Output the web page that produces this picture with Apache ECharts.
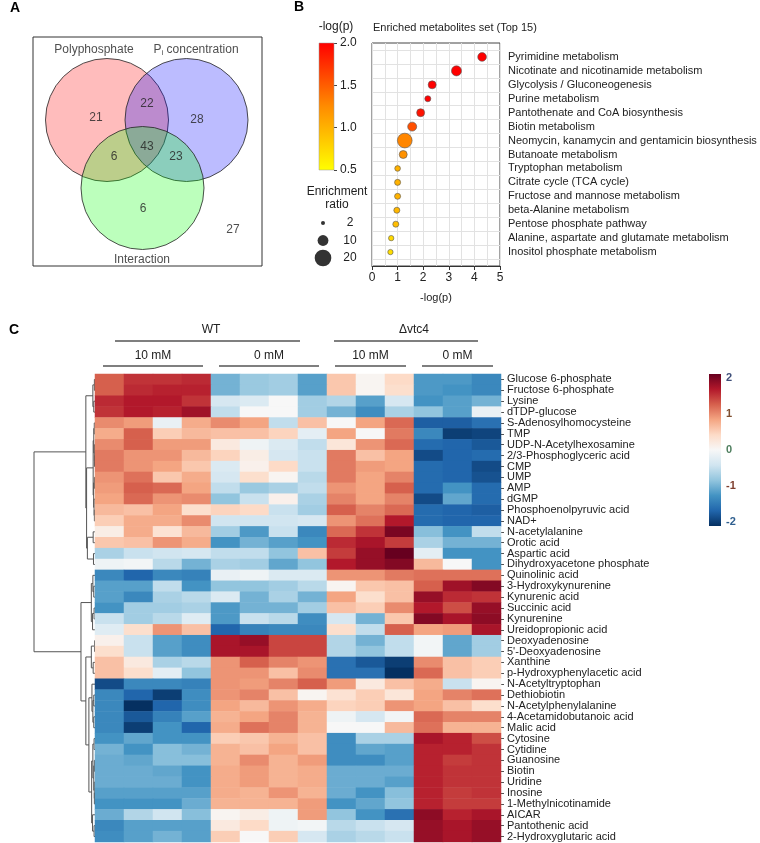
<!DOCTYPE html>
<html><head><meta charset="utf-8">
<script src="https://cdn.jsdelivr.net/npm/echarts@6/dist/echarts.min.js"></script>
<style>html,body{margin:0;padding:0;background:#fff}#c{width:760px;height:843px}</style>
</head><body><div id="c"></div><script>
const FONT = '"Liberation Sans", Arial, sans-serif';
const TXT = '#222';

// ---------- Panel A data ----------
const vennSetNames = ['Polyphosphate', 'Pi concentration', 'Interaction'];
const vennRegions = ['Poly only', 'Pi only', 'Interaction only', 'Poly+Pi', 'Poly+Int', 'Pi+Int', 'All three', 'None'];
const vennCounts = [21, 28, 6, 22, 6, 23, 43, 27];

// ---------- Panel B data ----------
const pathways = ['Pyrimidine metabolism', 'Nicotinate and nicotinamide metabolism', 'Glycolysis / Gluconeogenesis',
  'Purine metabolism', 'Pantothenate and CoA biosynthesis', 'Biotin metabolism',
  'Neomycin, kanamycin and gentamicin biosynthesis', 'Butanoate metabolism', 'Tryptophan metabolism',
  'Citrate cycle (TCA cycle)', 'Fructose and mannose metabolism', 'beta-Alanine metabolism',
  'Pentose phosphate pathway', 'Alanine, aspartate and glutamate metabolism', 'Inositol phosphate metabolism'];
const pathwayNegLogP = [4.3, 3.3, 2.35, 2.18, 1.9, 1.57, 1.28, 1.22, 1.0, 1.0, 1.0, 0.97, 0.93, 0.75, 0.72];
const pathwayRatio = [7.0, 8.8, 6.1, 3.9, 6.1, 7.4, 16.4, 6.1, 3.5, 3.9, 3.9, 3.9, 3.9, 3.2, 3.2];
const sizeLegendRatios = [2, 10, 20];
const xTicksB = [0, 1, 2, 3, 4, 5];
const colorTicksB = [0.5, 1.0, 1.5, 2.0];

// ---------- Panel C data ----------
const metabolites = ['Glucose 6-phosphate', 'Fructose 6-phosphate', 'Lysine', 'dTDP-glucose', 'S-Adenosylhomocysteine', 'TMP',
  'UDP-N-Acetylhexosamine', '2/3-Phosphoglyceric acid', 'CMP', 'UMP', 'AMP', 'dGMP', 'Phosphoenolpyruvic acid', 'NAD+',
  'N-acetylalanine', 'Orotic acid', 'Aspartic acid', 'Dihydroxyacetone phosphate', 'Quinolinic acid', '3-Hydroxykynurenine',
  'Kynurenic acid', 'Succinic acid', 'Kynurenine', 'Ureidopropionic acid', 'Deoxyadenosine', "5'-Deoxyadenosine", 'Xanthine',
  'p-Hydroxyphenylacetic acid', 'N-Acetyltryptophan', 'Dethiobiotin', 'N-Acetylphenylalanine', '4-Acetamidobutanoic acid',
  'Malic acid', 'Cytosine', 'Cytidine', 'Guanosine', 'Biotin', 'Uridine', 'Inosine', '1-Methylnicotinamide', 'AICAR',
  'Pantothenic acid', '2-Hydroxyglutaric acid'];
const samples = ['WT10_1','WT10_2','WT10_3','WT10_4','WT0_1','WT0_2','WT0_3','WT0_4','V10_1','V10_2','V10_3','V0_1','V0_2','V0_3'];
const genotypeLabels = ['WT', 'Δvtc4'];
const genotypeSpans = [[0, 7], [8, 13]];
const concLabels = ['10 mM', '0 mM', '10 mM', '0 mM'];
const concSpans = [[0, 3], [4, 7], [8, 10], [11, 13]];
const colorTicksC = [-2, -1, 0, 1, 2];
const zScores = [
  [1.2,1.45,1.45,1.5,-0.95,-0.75,-0.7,-1.1,0.55,0.05,0.4,-1.15,-1.15,-1.3],
  [1.2,1.5,1.55,1.55,-0.95,-0.75,-0.7,-1.1,0.55,0.05,0.35,-1.15,-1.2,-1.3],
  [1.5,1.6,1.6,1.45,-0.35,-0.3,0.0,-0.7,-0.6,-1.1,-0.35,-1.2,-1.1,-0.95],
  [1.45,1.6,1.55,1.7,-0.5,0.0,0.0,-0.7,-0.95,-1.25,-0.65,-0.8,-1.1,-0.15],
  [0.95,0.85,-0.15,0.75,0.95,0.8,-0.5,0.6,0.0,0.8,1.15,-1.65,-1.65,-1.5],
  [0.75,1.2,0.5,0.65,0.6,0.6,0.45,-0.2,0.8,0.0,1.05,-1.3,-1.9,-1.85],
  [0.95,1.2,0.85,0.85,0.2,-0.1,-0.3,-0.5,0.25,0.9,1.15,-1.55,-1.6,-1.7],
  [1.05,0.9,0.9,0.65,0.45,0.15,-0.35,-0.45,1.05,0.6,0.8,-1.8,-1.6,-1.55],
  [1.05,0.9,0.8,0.55,-0.3,0.1,0.4,-0.45,1.05,0.85,0.8,-1.55,-1.6,-1.8],
  [0.9,1.1,0.55,0.75,-0.35,0.35,0.05,-0.55,1.05,0.8,1.0,-1.55,-1.6,-1.75],
  [0.85,1.2,1.15,0.8,-0.5,-0.75,-0.65,-0.5,0.9,0.8,1.2,-1.55,-1.2,-1.55],
  [0.8,1.15,0.9,0.95,-0.8,-0.45,0.1,-0.65,1.0,0.8,1.0,-1.8,-1.05,-1.55],
  [0.65,0.6,0.8,0.35,0.45,0.4,-0.45,-0.7,1.2,1.0,1.15,-1.55,-1.6,-1.65],
  [0.5,0.75,0.75,0.95,-0.4,-0.4,-0.4,-0.35,0.9,1.1,1.6,-1.55,-1.6,-1.6],
  [0.15,0.75,0.3,0.65,-0.7,-1.15,-0.45,-1.3,1.15,1.45,1.9,-0.85,-1.2,-0.5],
  [0.55,0.6,0.9,0.75,-1.2,-0.95,-1.1,-1.2,1.5,1.65,1.4,-0.65,-0.95,-0.95],
  [-0.65,-0.45,-0.4,-0.35,-0.5,-0.5,-0.8,0.6,1.4,1.75,2.0,-0.2,-1.2,-1.2],
  [-0.1,-0.05,-0.55,-0.95,-0.65,-0.7,-1.05,-0.8,1.6,1.75,1.85,0.65,0.0,-1.2],
  [-1.3,-1.6,-1.3,-1.35,-0.15,-0.1,-0.3,-0.3,0.9,0.9,1.05,1.1,1.1,1.1],
  [-1.1,-1.1,-0.5,-1.2,-0.8,-0.8,-0.7,-0.55,0.05,0.55,0.6,1.2,1.7,1.85],
  [-1.1,-1.3,-0.65,-0.55,-0.3,-0.95,-0.65,-0.95,0.8,0.35,0.6,1.75,1.5,1.45],
  [-1.2,-0.7,-0.7,-0.65,-1.15,-0.95,-0.95,-0.7,0.6,0.5,0.95,1.6,1.3,1.75],
  [-0.45,-0.7,-0.55,-0.25,-1.15,-0.45,-0.55,-1.25,-0.35,-0.95,0.55,1.85,1.65,1.8],
  [-0.25,0.35,0.9,0.6,-1.6,-1.35,-1.3,-1.3,0.35,-0.5,1.2,0.8,0.85,1.65],
  [0.1,-0.45,-1.1,-1.25,1.65,1.75,1.35,1.35,-0.6,-0.95,-0.5,-0.05,-1.05,-0.7],
  [0.35,-0.45,-1.1,-1.25,1.65,1.65,1.35,1.35,-0.6,-0.8,-0.5,-0.05,-1.05,-0.7],
  [0.6,0.2,-0.65,-0.55,0.9,1.2,1.0,0.9,-1.5,-1.7,-1.9,0.95,0.6,0.5],
  [0.6,0.35,-0.2,-0.8,0.9,0.9,0.6,0.95,-1.5,-1.5,-2.0,1.15,0.6,0.5],
  [-1.8,-1.3,-1.3,-1.35,0.9,0.85,1.0,1.2,0.85,0.2,0.6,0.75,-0.45,0.05],
  [-1.3,-1.6,-1.9,-1.25,0.9,1.0,0.6,0.05,0.3,0.5,0.25,0.8,1.0,1.1],
  [-1.3,-2.0,-1.6,-1.25,0.8,0.65,0.9,0.75,0.45,0.5,0.9,0.8,0.6,0.35],
  [-1.3,-1.7,-1.35,-1.1,0.7,0.8,1.0,0.7,-0.1,-0.35,-0.05,1.15,1.0,1.0],
  [-1.3,-1.9,-1.2,-1.6,0.75,1.1,1.0,0.7,0.0,0.0,0.65,1.1,0.7,0.7],
  [-1.2,-1.05,-1.2,-1.2,0.5,0.55,0.7,0.6,-1.25,-0.65,-0.65,1.65,1.55,1.3],
  [-0.95,-1.2,-0.85,-0.95,0.7,0.6,0.8,0.6,-1.25,-1.05,-1.1,1.55,1.55,1.45],
  [-1.0,-1.05,-0.85,-0.85,0.7,0.95,0.7,0.85,-1.25,-1.25,-1.1,1.55,1.4,1.45],
  [-1.0,-1.0,-1.05,-1.2,0.75,0.85,0.7,0.75,-1.0,-1.0,-1.0,1.55,1.45,1.45],
  [-1.0,-1.0,-1.0,-1.2,0.75,0.85,0.7,0.75,-1.0,-1.0,-1.1,1.55,1.45,1.45],
  [-1.1,-1.1,-1.1,-1.1,0.75,0.7,0.9,0.7,-1.0,-1.2,-0.85,1.55,1.4,1.45],
  [-1.2,-1.2,-1.2,-1.0,0.7,0.7,0.7,0.85,-1.2,-1.05,-0.8,1.55,1.4,1.4],
  [-1.0,-0.6,-0.4,-0.85,0.05,0.15,-0.1,0.85,-0.8,-1.2,-1.5,1.8,1.55,1.65],
  [-1.3,-1.1,-1.1,-1.1,0.2,0.4,-0.1,-0.05,-0.55,-0.45,-0.35,1.75,1.65,1.75],
  [-1.25,-1.1,-0.95,-1.1,0.5,0.0,0.5,-0.35,-0.65,-0.55,-0.45,1.75,1.65,1.75]
];
// Row clustering tree: [mergeHeight, left, right]; leaves are row indices
const rowTree = [10,
  [1.5,
    [0.35, [0.1, 0, 1], [0.2, 2, 3]],
    [1.38,
      [0.3, [0.2, [0.12, 4, 5], [0.1, 6, [0.08, 7, 8]]], [0.22, [0.1, 9, 10], [0.15, 11, [0.1, 12, 13]]]],
      [1.25, [0.3, 14, 15], [0.25, 16, 17]]]],
  [2.3,
    [0.6, [0.35, 18, [0.2, 19, 20]], [0.4, [0.15, 21, 22], 23]],
    [1.5,
      [0.6, [0.08, 24, 25], [0.3, 26, 27]],
      [1.0,
        [0.5, 28, [0.35, [0.2, 29, 30], [0.2, 31, 32]]],
        [0.55, [0.35, [0.15, 33, 34], [0.2, [0.1, 35, 36], [0.12, 37, [0.1, 38, 39]]]], [0.4, 40, [0.15, 41, 42]]]]]]];

// ---------- styles / layout (not data) ----------
const vennCircleCenters = [[74, 83], [153.5, 83], [109.5, 151]];
const vennCircleColors = ['rgba(255,0,0,0.33)', 'rgba(0,0,255,0.33)', 'rgba(0,255,0,0.33)'];
const vennSetLabelPos = [[61, 13], [163, 13], [109, 223]];
const vennCountPos = [[63, 81], [164, 83], [110, 172], [114, 67], [81, 120], [143, 120], [114, 110], [200, 193]];
const genotypeInsets = [[20, 27], [7, 23]];
const concInset = [8, 8];
const RdBu = ['#053061','#2166ac','#4393c3','#92c5de','#d1e5f0','#f7f7f7','#fddbc7','#f4a582','#d6604d','#b2182b','#67001f'];
const ratioToSize = r => 2.6 * Math.pow(r, 0.62);
const colorLabelC = {'-2': '#2f5f8f', '-1': '#7f3f2f', '0': '#4f7f5f', '1': '#7f4f2f', '2': '#3f4f7a'};

// ---------- derived ----------
const heatData = [];
zScores.forEach((row, r) => row.forEach((v, c) => heatData.push([c, r, v])));
const dendroItems = [];
function walk(node) {
  if (typeof node === 'number') return {y: node + 0.5, h: 0};
  const a = walk(node[1]), b = walk(node[2]);
  dendroItems.push([node[0], a.y, b.y, a.h, b.h]);
  return {y: (a.y + b.y) / 2, h: node[0]};
}
walk(rowTree);
const bubbleData = pathways.map((p, i) => [pathwayNegLogP[i], i + 1, pathwayRatio[i]]);
const headerData = genotypeSpans.map((s, i) => [s[0], s[1], 1, i]).concat(concSpans.map((s, i) => [s[0], s[1], 2, i]));

const chart = echarts.init(document.getElementById('c'));
const txt = (text, x, y, size, extra) => ({type: 'text', x, y, style: Object.assign({text, fontSize: size, fontFamily: FONT, fill: TXT,
  textAlign: 'center', align: 'center', textVerticalAlign: 'middle', verticalAlign: 'middle'}, extra || {})});

const gradientRect = (stops) => (params, api) => {
  const p0 = api.coord([0, api.value(1)]), p1 = api.coord([1, api.value(0)]);
  const ext = api.value(2);
  return {type: 'rect', shape: {x: p0[0], y: p0[1] - ext, width: p1[0] - p0[0], height: p1[1] - p0[1] + 2 * ext},
    style: {fill: new echarts.graphic.LinearGradient(0, 0, 0, 1, stops), stroke: ext ? null : '#999', lineWidth: 0.5}};
};

const option = {
  animation: false,
  textStyle: {fontFamily: FONT},
  graphic: [
    txt('A', 15, 8, 14, {fontWeight: 'bold', fill: '#000'}),
    txt('B', 299, 7, 14, {fontWeight: 'bold', fill: '#000'}),
    txt('C', 14, 330, 14, {fontWeight: 'bold', fill: '#000'}),
    txt('-log(p)', 336, 27, 12),
    txt('Enrichment', 337, 192, 12),
    txt('ratio', 337, 205, 12),
    txt('Enriched metabolites set (Top 15)', 373, 28, 11, {textAlign: 'left', align: 'left'})
  ],
  grid: [
    {left: 33, top: 37, width: 229, height: 229, show: true, borderColor: '#333', borderWidth: 1},
    {left: 372, top: 43, width: 128, height: 223, show: true, borderColor: '#444', borderWidth: 1},
    {left: 319, top: 43, width: 15, height: 127},
    {left: 313, top: 205.5, width: 20, height: 70},
    {left: 95, top: 374, width: 406, height: 468},
    {left: 34, top: 374, width: 61, height: 468},
    {left: 709, top: 378, width: 12, height: 144}
  ],
  xAxis: [
    {gridIndex: 0, type: 'value', min: 0, max: 229, show: false},
    {gridIndex: 1, type: 'value', min: 0, max: 5, interval: 1,
      axisLine: {show: true, onZero: false, lineStyle: {color: '#333'}}, axisTick: {show: true, length: 4, lineStyle: {color: '#333'}},
      axisLabel: {fontSize: 12, color: TXT, margin: 6},
      splitLine: {show: true, lineStyle: {color: '#e2e2e2'}},
      minorTick: {show: false, splitNumber: 2}, minorSplitLine: {show: true, lineStyle: {color: '#e2e2e2'}},
      name: '-log(p)', nameLocation: 'middle', nameGap: 26, nameTextStyle: {fontSize: 11, color: TXT}},
    {gridIndex: 2, type: 'value', min: 0, max: 1, show: false},
    {gridIndex: 3, type: 'value', min: 0, max: 1, show: false},
    {gridIndex: 4, type: 'category', data: samples, show: false},
    {gridIndex: 5, type: 'value', min: 0, max: 10, inverse: true, show: false},
    {gridIndex: 6, type: 'value', min: 0, max: 1, show: false}
  ],
  yAxis: [
    {gridIndex: 0, type: 'value', min: 0, max: 229, inverse: true, show: false},
    {gridIndex: 1, type: 'value', min: 0, max: 16, interval: 1, inverse: true, position: 'right',
      axisLine: {show: false, onZero: false}, axisTick: {show: false},
      axisLabel: {fontSize: 11, color: TXT, margin: 8, formatter: v => pathways[v - 1] || ''},
      splitLine: {show: false}, minorTick: {show: false, splitNumber: 2},
      minorSplitLine: {show: true, lineStyle: {color: '#e2e2e2'}}},
    {gridIndex: 2, type: 'value', min: 0.5, max: 2.0, interval: 0.5, position: 'right',
      axisLine: {show: false, onZero: false}, axisTick: {show: true, length: 3, lineStyle: {color: '#444'}},
      axisLabel: {fontSize: 12, color: TXT, margin: 6, formatter: v => v.toFixed(1)}, splitLine: {show: false}},
    {gridIndex: 3, type: 'value', min: 0, max: 4, interval: 1, inverse: true, position: 'right',
      axisLine: {show: false, onZero: false}, axisTick: {show: false}, splitLine: {show: false},
      axisLabel: {fontSize: 12, color: TXT, margin: 17, align: 'center', formatter: v => sizeLegendRatios[v - 1] !== undefined ? String(sizeLegendRatios[v - 1]) : ''}},
    {gridIndex: 4, type: 'category', data: metabolites, inverse: true, position: 'right',
      axisLine: {show: false, onZero: false}, axisTick: {show: true, length: 3, alignWithLabel: true, lineStyle: {color: '#555'}},
      axisLabel: {fontSize: 11, color: TXT, margin: 6, interval: 0}},
    {gridIndex: 5, type: 'value', min: 0, max: 43, inverse: true, show: false},
    {gridIndex: 6, type: 'value', min: -2, max: 2, interval: 1, position: 'right',
      axisLine: {show: false, onZero: false}, axisTick: {show: false}, splitLine: {show: false},
      axisLabel: {fontSize: 11, fontWeight: 'bold', margin: 5, color: v => colorLabelC[String(v)] || TXT}}
  ],
  visualMap: [
    {type: 'continuous', show: false, seriesIndex: 2, dimension: 0, min: 0.5, max: 2.0,
      inRange: {color: ['#FFFF00', '#FF8C00', '#FF0000']}},
    {type: 'continuous', show: false, seriesIndex: 6, dimension: 2, min: -2, max: 2, inRange: {color: RdBu}}
  ],
  series: [
    {type: 'scatter', xAxisIndex: 0, yAxisIndex: 0, symbolSize: 123, silent: true,
      data: vennCircleCenters.map((c, i) => ({value: c, itemStyle: {color: vennCircleColors[i], borderColor: '#222', borderWidth: 1}}))},
    {type: 'scatter', xAxisIndex: 0, yAxisIndex: 0, symbolSize: 0, silent: true, z: 5,
      data: vennCountPos.map((p, i) => ({value: p, name: String(vennCounts[i])}))
        .concat(vennSetLabelPos.map((p, i) => ({value: p, name: vennSetNames[i]}))),
      label: {show: true, position: 'inside', fontSize: 12, color: TXT,
        formatter: d => d.name === 'Pi concentration' ? '{a|P}{s|i}{a| concentration}' : d.name,
        rich: {a: {fontSize: 12, color: TXT}, s: {fontSize: 8, color: TXT, padding: [6, 0, 0, 0]}}}},
    {type: 'scatter', xAxisIndex: 1, yAxisIndex: 1, data: bubbleData, symbolSize: v => ratioToSize(v[2]),
      itemStyle: {borderColor: '#555', borderWidth: 0.6, opacity: 1}},
    {type: 'scatter', xAxisIndex: 3, yAxisIndex: 3, data: sizeLegendRatios.map((r, i) => [0.5, i + 1, r]),
      symbolSize: v => ratioToSize(v[2]), itemStyle: {color: '#000'}},
    {type: 'custom', xAxisIndex: 2, yAxisIndex: 2, data: [[colorTicksB[0], colorTicksB[colorTicksB.length - 1], 0]], clip: false,
      renderItem: gradientRect([{offset: 0, color: '#FF0000'}, {offset: 0.5, color: '#FF8C00'}, {offset: 1, color: '#FFFF00'}])},
    {type: 'custom', xAxisIndex: 5, yAxisIndex: 5, data: dendroItems, clip: false,
      renderItem: (params, api) => {
        const h = api.value(0), y1 = api.value(1), y2 = api.value(2), h1 = api.value(3), h2 = api.value(4);
        return {type: 'polyline', shape: {points: [api.coord([h1, y1]), api.coord([h, y1]), api.coord([h, y2]), api.coord([h2, y2])]},
          style: {stroke: '#555', lineWidth: 1, fill: null}};
      }},
    {type: 'heatmap', xAxisIndex: 4, yAxisIndex: 4, data: heatData, itemStyle: {borderWidth: 0}},
    {type: 'custom', xAxisIndex: 4, yAxisIndex: 4, data: headerData, clip: false, z: 5,
      renderItem: (params, api) => {
        const s = api.value(0), e = api.value(1), lvl = api.value(2), gi = api.value(3);
        const sz = api.size([1, 1]);
        const a = api.coord([s, 0]), b = api.coord([e, 0]);
        const left = a[0] - sz[0] / 2, right = b[0] + sz[0] / 2, top = a[1] - sz[1] / 2;
        const inset = lvl === 1 ? genotypeInsets[gi] : concInset;
        const ly = top - (lvl === 1 ? 33 : 8), ty = top - (lvl === 1 ? 44 : 18);
        const label = lvl === 1 ? genotypeLabels[gi] : concLabels[gi];
        return {type: 'group', children: [
          {type: 'line', shape: {x1: left + inset[0], y1: ly, x2: right - inset[1], y2: ly}, style: {stroke: '#555', lineWidth: 1.3}},
          {type: 'text', x: (left + right) / 2, y: ty, style: {text: label, fontSize: 12, fontFamily: FONT, fill: TXT,
            align: 'center', verticalAlign: 'middle'}}
        ]};
      }},
    {type: 'custom', xAxisIndex: 6, yAxisIndex: 6, data: [[colorTicksC[0], colorTicksC[colorTicksC.length - 1], 4]], clip: false,
      renderItem: gradientRect(RdBu.slice().reverse().map((c, i) => ({offset: i / (RdBu.length - 1), color: c})))}
  ]
};
chart.setOption(option);
</script></body></html>
